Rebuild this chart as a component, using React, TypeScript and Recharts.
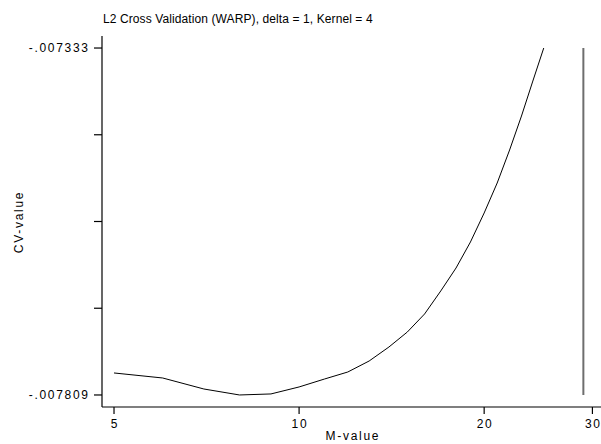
import React from "react";
import {
  LineChart,
  Line,
  XAxis,
  YAxis,
  ReferenceLine,
} from "recharts";

const mValues = [5, 6, 7, 8, 9, 10, 11, 12, 13, 14, 15, 16, 17, 18, 19, 20, 21, 22, 23, 24, 25];
const cvValues = [
  -0.0077788, -0.0077857, -0.0078008, -0.007809, -0.0078076, -0.007798, -0.0077871,
  -0.0077775, -0.0077624, -0.0077432, -0.0077226, -0.0076979, -0.0076663, -0.0076348,
  -0.0075991, -0.0075593, -0.0075182, -0.0074729, -0.0074263, -0.0073783, -0.007333,
];
const xTicks = [5, 10, 20, 30];
const yTicks = [-0.007809, -0.00769, -0.007571, -0.007452, -0.007333];
const yTickLabels = ["-.007809", "", "", "", "-.007333"];
const refM = 29;

const data = mValues.map((m, i) => ({ m, cv: cvValues[i] }));

const FONT = "'Liberation Sans', Arial, Helvetica, sans-serif";
const SPACING = 1.7;

const XTick = (props: any) => {
  const { x, y, payload } = props;
  return (
    <text
      x={x + SPACING / 2}
      y={y}
      dy="0.71em"
      textAnchor="middle"
      fontFamily={FONT}
      fontSize={12}
      letterSpacing={SPACING}
      fill="#000"
    >
      {payload.value}
    </text>
  );
};

const YTick = (props: any) => {
  const { x, y, payload, index } = props;
  const idx = yTicks.indexOf(payload.value);
  const label = yTickLabels[idx >= 0 ? idx : index] ?? "";
  return (
    <text
      x={x + SPACING}
      y={y}
      dy="0.355em"
      textAnchor="end"
      fontFamily={FONT}
      fontSize={12}
      letterSpacing={SPACING}
      fill="#000"
    >
      {label}
    </text>
  );
};

export default function App() {
  return (
    <div style={{ position: "absolute", left: 0, top: 0, width: 601, height: 444, background: "#fff" }}>
      <div
        style={{
          position: "absolute",
          left: 103,
          top: 12,
          fontFamily: FONT,
          fontSize: 12,
          lineHeight: "14px",
          letterSpacing: 0.1,
          color: "#000",
          whiteSpace: "nowrap",
        }}
      >
        L2 Cross Validation (WARP), delta = 1, Kernel = 4
      </div>
      <LineChart
        width={601}
        height={444}
        data={data}
        margin={{ top: 36, right: 0, bottom: 0, left: 0 }}
      >
        <XAxis
          dataKey="m"
          type="number"
          scale="log"
          domain={[4.78, 30.98]}
          ticks={xTicks}
          allowDataOverflow
          height={37}
          tickSize={7}
          tickMargin={5}
          tick={<XTick />}
          axisLine={{ stroke: "#000", strokeWidth: 1.2 }}
          tickLine={{ stroke: "#000", strokeWidth: 1.2 }}
          label={{
            content: () => (
              <text
                x={352 + SPACING / 2}
                y={440}
                textAnchor="middle"
                fontFamily={FONT}
                fontSize={12}
                letterSpacing={SPACING}
                fill="#000"
              >
                M-value
              </text>
            ),
          }}
        />
        <YAxis
          type="number"
          domain={[-0.0078255, -0.0073165]}
          ticks={yTicks}
          allowDataOverflow
          width={102}
          tickSize={8}
          tickMargin={6}
          tick={<YTick />}
          axisLine={{ stroke: "#000", strokeWidth: 1.2 }}
          tickLine={{ stroke: "#000", strokeWidth: 1.2 }}
          label={{
            content: () => (
              <text
                x={23}
                y={222}
                transform="rotate(-90 23 222)"
                textAnchor="middle"
                fontFamily={FONT}
                fontSize={12}
                letterSpacing={SPACING}
                fill="#000"
              >
                CV-value
              </text>
            ),
          }}
        />
        <ReferenceLine
          segment={[
            { x: refM, y: Math.min(...cvValues) },
            { x: refM, y: Math.max(...cvValues) },
          ]}
          stroke="#6e6e6e"
          strokeWidth={2}
        />
        <Line
          type="linear"
          dataKey="cv"
          stroke="#000"
          strokeWidth={1}
          dot={false}
          isAnimationActive={false}
        />
      </LineChart>
    </div>
  );
}
